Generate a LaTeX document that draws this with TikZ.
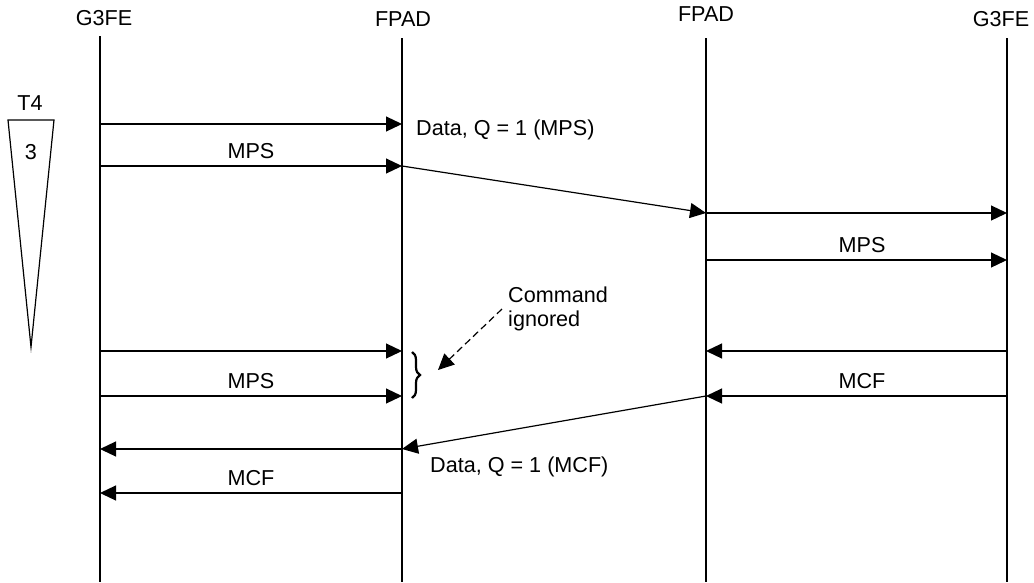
\documentclass[tikz,border=0pt]{standalone}
\usepackage{fontspec}
\setmainfont{Liberation Sans}
\usetikzlibrary{arrows.meta,decorations.pathreplacing}
\begin{document}
\begin{tikzpicture}[x=1pt,y=-1pt,
  every node/.style={font=\fontsize{21.6}{24.5}\selectfont, inner sep=0pt},
  life/.style={line width=1.2pt},
  msg/.style={line width=1.2pt, -{Triangle[length=16pt,width=15pt]}},
  note/.style={line width=1.2pt, dashed, dash pattern=on 7pt off 4pt, -{Triangle[length=16pt,width=15pt]}},
  lbl/.style={anchor=center}]
\useasboundingbox (0,0) rectangle (1034,582);
% lifeline heads
\node[lbl] (hA) at (104,18) {G3FE};
\node[lbl] (hB) at (403,19) {FPAD};
\node[lbl] (hC) at (706,14) {FPAD};
\node[lbl] (hD) at (1001,19) {G3FE};
\coordinate (A0) at (100,36); \coordinate (A1) at (100,582);
\coordinate (B0) at (402,38); \coordinate (B1) at (402,582);
\coordinate (C0) at (706,38); \coordinate (C1) at (706,582);
\coordinate (D0) at (1007,38); \coordinate (D1) at (1007,582);
\draw[life] (A0) -- (A1);
\draw[life] (B0) -- (B1);
\draw[life] (C0) -- (C1);
\draw[life] (D0) -- (D1);
% points on lifelines
\foreach \y in {124,166,351,396,449,493} {\coordinate (A\y) at (100,\y); \coordinate (B\y) at (402,\y);}
\foreach \y in {213,260,351,396} {\coordinate (C\y) at (706,\y); \coordinate (D\y) at (1007,\y);}
% messages
\draw[msg] (A124) -- (B124);
\draw[msg] (A166) -- (B166);
\draw[msg] (B166) -- (C213);
\draw[msg] (C213) -- (D213);
\draw[msg] (C260) -- (D260);
\draw[msg] (A351) -- (B351);
\draw[msg] (D351) -- (C351);
\draw[msg] (A396) -- (B396);
\draw[msg] (D396) -- (C396);
\draw[msg] (C396) -- (B449);
\draw[msg] (B449) -- (A449);
\draw[msg] (B493) -- (A493);
% labels
\node[anchor=west] (l1) at (416,130) {Data, Q = 1 (MPS)};
\node[lbl] (l2) at (251,151) {MPS};
\node[lbl] (l3) at (862,245) {MPS};
\node[lbl] (l4) at (251,381) {MPS};
\node[lbl] (l5) at (862,381) {MCF};
\node[anchor=west] (l6) at (430,467) {Data, Q = 1 (MCF)};
\node[lbl] (l7) at (251,478) {MCF};
% command ignored note
\node[anchor=west, align=left] (cmd) at (508,309) {Command\\ignored};
\coordinate (n0) at (502,309);
\coordinate (n1) at (438,370);
\draw[note] (n0) -- (n1);
\coordinate (br0) at (412,352);
\coordinate (br1) at (412,398);
\draw[line width=2.2pt, decorate, decoration={brace, amplitude=8pt}] (br0) -- (br1);
% timer T4
\node[lbl] (t4) at (30,103) {T4};
\coordinate (tr1) at (8,120); \coordinate (tr2) at (54,120); \coordinate (tr3) at (31,347);
\draw[life] (tr1) -- (tr2) -- (tr3) -- cycle;
\node[lbl] (t3) at (31,152) {3};
\end{tikzpicture}
\end{document}
